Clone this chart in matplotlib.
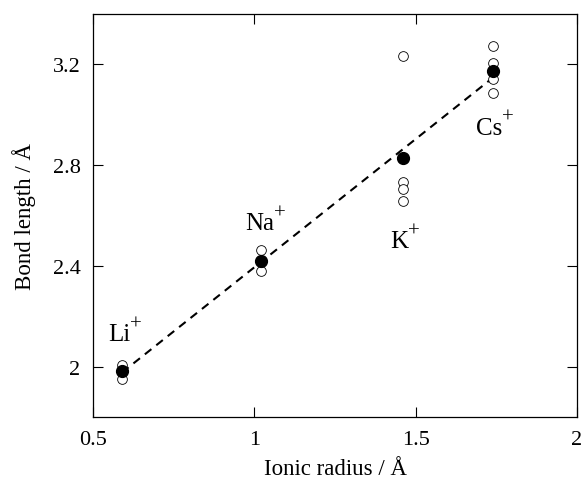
import numpy as np
import matplotlib
matplotlib.use('Agg')
import matplotlib.pyplot as plt

plt.rcParams['font.family'] = ['Liberation Serif', 'DejaVu Serif']

# ---------- data ---------- #
ions = ['Li', 'Na', 'K', 'Cs']
radius = [0.59, 1.02, 1.46, 1.74]            # ionic radius / Å
mean_bond = [1.983, 2.419, 2.828, 3.173]     # filled circles

# individual bond lengths (open circles)
li_bonds = [2.008, 1.950]
na_bonds = [2.464, 2.381]
k_bonds = [3.233, 2.733, 2.707, 2.657]
cs_bonds = [3.273, 3.207, 3.170, 3.143, 3.087]
all_bonds = [li_bonds, na_bonds, k_bonds, cs_bonds]

# label anchor (left, baseline) in data coords
label_x = [0.547, 0.972, 1.422, 1.687]
label_y = [2.105, 2.545, 2.475, 2.925]

# ---------- figure ---------- #
fig = plt.figure(figsize=(5.87, 4.85), dpi=100)
ax = fig.add_axes([0.1584, 0.138, 0.8246, 0.831])

# linear fit through the mean values
k, b = np.polyfit(radius, mean_bond, 1)
xs = np.array([radius[0], radius[-1]])
ax.plot(xs, k * xs + b, color='black', lw=1.5, ls=(0, (4, 3)), zorder=1)

for r, bonds in zip(radius, all_bonds):
    ax.plot([r] * len(bonds), bonds, 'o', ms=7, mfc='white', mec='black',
            mew=0.6, zorder=2)
ax.plot(radius, mean_bond, 'o', ms=8.5, color='black', zorder=3)

# ion labels with a small raised "+"
for name, lx, ly in zip(ions, label_x, label_y):
    t = ax.text(lx, ly, name, fontsize=18, ha='left', va='baseline')
    ax.annotate('+', xy=(1, 0), xycoords=t, xytext=(-0.5, 12),
                textcoords='offset points', fontsize=15,
                ha='left', va='baseline')

ax.set_xlim(0.5, 2.0)
ax.set_ylim(1.8, 3.4)
ax.set_xticks([0.5, 1, 1.5, 2])
ax.set_xticklabels(['0.5', '1', '1.5', '2'])
ax.set_yticks([2.0, 2.4, 2.8, 3.2])
ax.set_yticklabels(['2', '2.4', '2.8', '3.2'])
ax.tick_params(direction='in', length=7, width=0.8, top=True, right=True,
               labelsize=16)
ax.tick_params(axis='x', pad=9)
ax.tick_params(axis='y', pad=9)
for s in ax.spines.values():
    s.set_linewidth(0.9)

ax.set_xlabel('Ionic radius / Å', fontsize=16.5, labelpad=7)
ax.set_ylabel('Bond length / Å', fontsize=16.5, labelpad=12)

fig.savefig('out.png', dpi=100)
